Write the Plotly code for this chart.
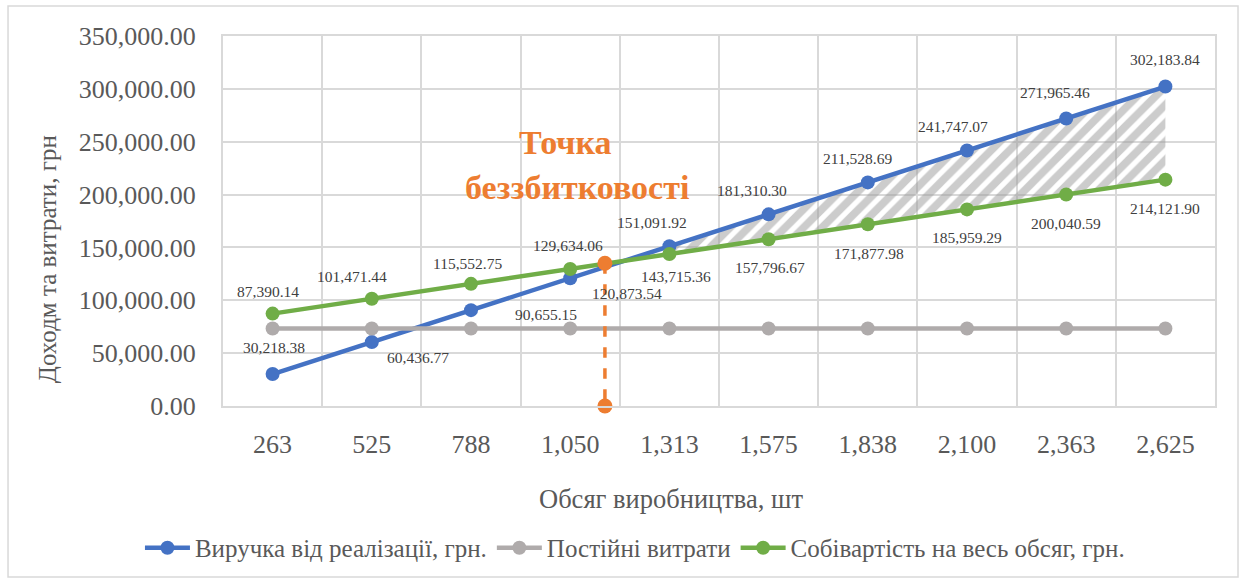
import plotly.graph_objects as go

# ---------------- data ----------------
categories = ["263", "525", "788", "1,050", "1,313", "1,575", "1,838", "2,100", "2,363", "2,625"]
revenue = [30218.38, 60436.77, 90655.15, 120873.54, 151091.92, 181310.30,
           211528.69, 241747.07, 271965.46, 302183.84]
fixed_costs = [73308.83, 73308.83, 73308.83, 73308.83, 73308.83,
               73308.83, 73308.83, 73308.83, 73308.83, 73308.83]
total_cost = [87390.14, 101471.44, 115552.75, 129634.06, 143715.36, 157796.67,
              171877.98, 185959.29, 200040.59, 214121.90]
breakeven_pos = 3.35          # position on category scale (between 1,050 and 1,313)
breakeven_value = 135000.0

series_names = ["Виручка від реалізації, грн.", "Постійні витрати", "Собівартість на весь обсяг, грн."]
x_title = "Обсяг виробництва, шт"
y_title = "Доходм та витрати, грн"
be_lines = ["Точка", "беззбитковості"]

# ---------------- styles ----------------
FONT = "Liberation Serif, Times New Roman, serif"
BLUE, GRAY, GREEN, ORANGE = "#4472C4", "#AFABAB", "#70AD47", "#ED7D31"
GRID = "#D9D9D9"
TXT = "#595959"
LBL = "#404040"

# label offsets (pixels) : (xshift, yshift)
rev_off = [(1, 27), (46, -15), (75, -4), (57, -15), (-17, 24), (-17, 24),
           (-10, 24), (-14, 24), (-11, 26), (0, 27)]
cost_off = [(-5, 22), (-20, 22), (-4, 20), (-2, 23), (7, -22), (1, -28),
            (1, -29), (0, -28), (0, -29), (0, -29)]

xs = list(range(len(categories)))

fig = go.Figure()

# hatched profit region between revenue and cost, from their intersection on
i0 = next(i for i in range(len(xs) - 1) if revenue[i] < total_cost[i] and revenue[i + 1] >= total_cost[i + 1])
d0 = total_cost[i0] - revenue[i0]
d1 = revenue[i0 + 1] - total_cost[i0 + 1]
t = d0 / (d0 + d1)
xi = xs[i0] + t
yi = revenue[i0] + t * (revenue[i0 + 1] - revenue[i0])
hx = [xi] + xs[i0 + 1:]
fig.add_trace(go.Scatter(x=hx, y=[yi] + total_cost[i0 + 1:], mode="lines",
                         line=dict(width=0), showlegend=False, hoverinfo="skip"))
fig.add_trace(go.Scatter(x=hx, y=[yi] + revenue[i0 + 1:], mode="lines",
                         line=dict(width=0), fill="tonexty", fillcolor="rgba(0,0,0,0)",
                         fillpattern=dict(shape="/", fgcolor="#9A9A9A", bgcolor="rgba(255,255,255,0)",
                                          size=13, solidity=0.6),
                         showlegend=False, hoverinfo="skip"))

for name, vals, col in [(series_names[0], revenue, BLUE),
                        (series_names[1], fixed_costs, GRAY),
                        (series_names[2], total_cost, GREEN)]:
    fig.add_trace(go.Scatter(x=xs, y=vals, name=name, mode="lines+markers",
                             line=dict(color=col, width=4.5),
                             marker=dict(color=col, size=14), cliponaxis=False))

# break-even marker + dashed drop line
fig.add_trace(go.Scatter(x=[breakeven_pos, breakeven_pos], y=[breakeven_value, 0],
                         mode="lines+markers", line=dict(color=ORANGE, width=3.5, dash="dash"),
                         marker=dict(color=ORANGE, size=15), showlegend=False, cliponaxis=False))

annotations = []
for vals, offs in [(revenue, rev_off), (total_cost, cost_off)]:
    for x, v, (dx, dy) in zip(xs, vals, offs):
        annotations.append(dict(x=x, y=v, xref="x", yref="y", text=f"{v:,.2f}", showarrow=False,
                                xshift=dx, yshift=dy, font=dict(family=FONT, size=15.5, color=LBL)))

# break-even title
annotations.append(dict(x=breakeven_pos, y=breakeven_value, xref="x", yref="y", text=f"<b>{be_lines[0]}</b>",
                        showarrow=False, xshift=-39, yshift=121, font=dict(family=FONT, size=34, color=ORANGE)))
annotations.append(dict(x=breakeven_pos, y=breakeven_value, xref="x", yref="y", text=f"<b>{be_lines[1]}</b>",
                        showarrow=False, xshift=-28, yshift=76, font=dict(family=FONT, size=34, color=ORANGE)))

# axis titles
annotations.append(dict(x=-0.1774, y=0.397, xref="paper", yref="paper", text=y_title, textangle=-90,
                        xanchor="center", yanchor="middle",
                        showarrow=False, font=dict(family=FONT, size=25, color=TXT)))
annotations.append(dict(x=0.4516, y=-0.251, xref="paper", yref="paper", text=x_title,
                        xanchor="center", yanchor="middle",
                        showarrow=False, font=dict(family=FONT, size=26.5, color=TXT)))

fig.update_layout(
    width=1245, height=581,
    margin=dict(l=223, r=30, t=36, b=175, autoexpand=False),
    paper_bgcolor="white", plot_bgcolor="white",
    font=dict(family=FONT, color=TXT),
    annotations=annotations,
    showlegend=True,
    legend=dict(orientation="h", xref="container", yref="container", x=0.51, y=0.0568,
                xanchor="center", yanchor="middle", traceorder="normal",
                font=dict(family=FONT, size=25, color=TXT), itemwidth=45, tracegroupgap=0,
                bgcolor="rgba(0,0,0,0)"),
    shapes=[dict(type="rect", xref="paper", yref="paper", x0=-0.2167, x1=1.0232, y0=-0.462, y1=1.081,
                 line=dict(color="#D9D9D9", width=1.5), fillcolor="rgba(0,0,0,0)", layer="below")],
)

fig.update_xaxes(range=[-0.5, len(categories) - 0.5], tickmode="array", tickvals=xs, ticktext=categories,
                 showgrid=False, zeroline=False, showline=True, mirror=True, linecolor=GRID, linewidth=2,
                 ticks="", ticklabelstandoff=14, tickfont=dict(family=FONT, size=26, color=TXT),
                 minor=dict(tickvals=[i - 0.5 for i in range(len(categories) + 1)], showgrid=True,
                            gridcolor=GRID, gridwidth=2, ticks=""))
fig.update_yaxes(range=[0, 350000], dtick=50000, tickformat=",.2f", showgrid=True, gridcolor=GRID,
                 gridwidth=2, zeroline=False, showline=True, mirror=True, linecolor=GRID, linewidth=2,
                 ticks="", ticklabelstandoff=20, tickfont=dict(family=FONT, size=26, color=TXT))

fig.write_html("out.html")
